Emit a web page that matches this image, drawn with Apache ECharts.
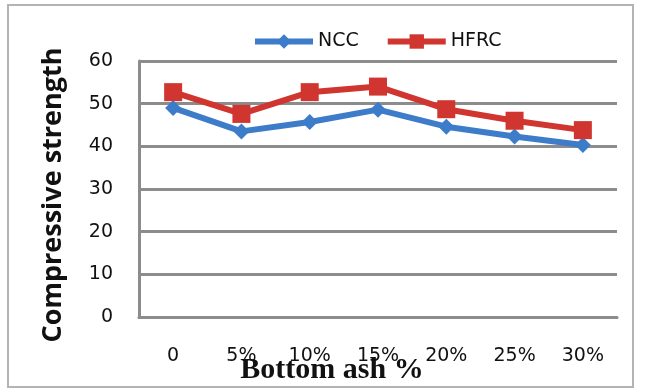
<!DOCTYPE html>
<html>
<head>
<meta charset="utf-8">
<script src="https://cdn.jsdelivr.net/npm/echarts@6/dist/echarts.min.js"></script>
<style>
  html, body { margin: 0; padding: 0; background: #fff; }
  #chart { width: 645px; height: 392px; }
</style>
</head>
<body>
<div id="chart"></div>
<script>
// Bottom ash replacement levels
const categories = ['0', '5%', '10%', '15%', '20%', '25%', '30%'];
// Compressive strength values
const nccValues = [49.0, 43.5, 45.7, 48.6, 44.6, 42.3, 40.3];
const hfrcValues = [52.7, 47.6, 52.7, 54.0, 48.7, 46.0, 43.8];
const yTicks = { min: 0, max: 60, step: 10 };

const gridColor = '#8c8c8c';
const labelFont = 'DejaVu Sans';
const chart = echarts.init(document.getElementById('chart'), null, { renderer: 'canvas' });

chart.setOption({
  backgroundColor: '#ffffff',
  animation: false,
  graphic: [{
    type: 'rect',
    shape: { x: 8, y: 5, width: 625, height: 382 },
    style: { fill: 'none', stroke: '#b4b4b4', lineWidth: 2 },
    silent: true, z: -1
  }],
  legend: {
    left: 247, top: 27,
    itemWidth: 58, itemHeight: 18, itemGap: 26,
    lineStyle: { width: 6 },
    textStyle: { fontFamily: labelFont, fontSize: 19, color: '#111' },
    data: ['NCC', 'HFRC']
  },
  grid: { left: 139, right: 28, top: 61, bottom: 75, outerBoundsMode: 'none', containLabel: false },
  xAxis: {
    type: 'category',
    data: categories,
    boundaryGap: true,
    axisLine: { show: true, lineStyle: { color: gridColor, width: 3 } },
    axisTick: { show: false },
    axisLabel: { fontFamily: labelFont, fontSize: 19, color: '#111', margin: 30 },
    name: 'Bottom ash %',
    nameLocation: 'middle',
    nameGap: 38,
    nameMoveOverlap: false,
    nameTextStyle: { fontFamily: 'Liberation Serif', fontWeight: 'bold', fontSize: 30, color: '#111', padding: [0, 0, 0, -92] }
  },
  yAxis: {
    type: 'value',
    min: yTicks.min, max: yTicks.max, interval: yTicks.step,
    axisLine: { show: true, lineStyle: { color: gridColor, width: 3 } },
    axisTick: { show: false },
    splitLine: { lineStyle: { color: gridColor, width: 3 } },
    axisLabel: { fontFamily: labelFont, fontSize: 19, color: '#111', margin: 26 },
    name: 'Compressive strength',
    nameLocation: 'middle',
    nameGap: 72,
    nameMoveOverlap: false,
    nameTextStyle: { fontFamily: 'Open Sans', fontWeight: 'bold', fontSize: 27, color: '#111', padding: [0, 0, 0, -12] }
  },
  series: [
    {
      name: 'NCC', type: 'line', data: nccValues,
      symbol: 'diamond', symbolSize: 16,
      lineStyle: { color: '#3d7cc9', width: 6 },
      itemStyle: { color: '#3d7cc9' }
    },
    {
      name: 'HFRC', type: 'line', data: hfrcValues,
      symbol: 'rect', symbolSize: 18,
      lineStyle: { color: '#d0352f', width: 6 },
      itemStyle: { color: '#d0352f' }
    }
  ]
});
</script>
</body>
</html>
